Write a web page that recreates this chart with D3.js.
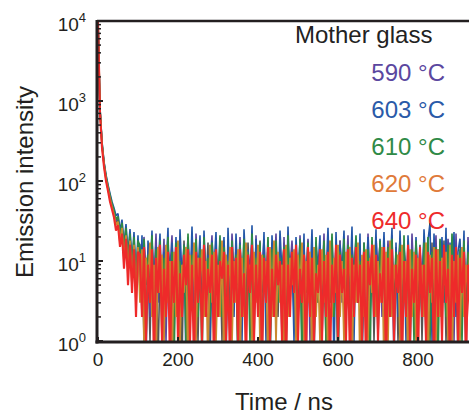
<!DOCTYPE html>
<html><head><meta charset="utf-8">
<script src="https://cdn.jsdelivr.net/npm/d3@7"></script>
<style>
html,body{margin:0;padding:0;background:#fff;}
svg{display:block;font-family:"Liberation Sans",Arial,Helvetica,sans-serif;}
</style></head>
<body>
<svg id="chart" width="469" height="415"></svg>
<script>
// ---- data ----
const times = d3.range(0, 931, 5); // ns, 187 samples
const seriesNames = ["Mother glass", "590 °C", "603 °C", "610 °C", "620 °C", "640 °C"];
const lineColors = ["#555555", "#5b479f", "#2357a8", "#2f8a45", "#c98a30", "#ee2a2a"];
const labelColors = ["#222222", "#5b479f", "#2a5aa8", "#2f8a47", "#e07a3a", "#ee2b2b"];
const xTicks = [0, 200, 400, 600, 800];
const yTickExps = [0, 1, 2, 3, 4];

const motherEarly = [10000,760,285,162,108,80,62,48,40,30,33,18,27,12,23,8,20,6,17,4,16];
const motherTail = [13,2,17,5,10,1,15,4,18,0, 9,6,14,2,16,3,11,1,17,5, 12,0,18,4,10,2,15,6,13,1, 16,3,9,5,17,0,12,2,14,4, 11,1,18,6,13,2,10,3,16,0, 15,5,12,1,17,4,9,2,14,6, 18,0,11,3,16,1,13,5,10,2, 14,4,17,0,12,6,15,2,9,3, 16,1,13,5,18,2,11,0,14,4, 10,3,15,1,12,6,17,2,13,0, 18,5,9,2,14,1,16,4,11,3, 12,0,15,6,10,2,18,1,13,5, 17,3,11,0,16,4,12,2,15,1, 9,6,14,2,18,0,13,3,10,5, 16,1,12,4,15,2,17,0,11,6, 13,3,18,1,10,5,14,2,16,0, 12,4,15,1,17,3];
const s590Early = [10000,780,290,165,110,83,64,50,42,32,35,20,28,13,24,9,21,7,19,5,17];
const s590Tail = [16,4,20,7,13,2,18,5,22,3, 11,6,19,1,15,8,21,3,14,5, 17,2,12,7,20,4,16,1,22,6, 13,3,18,5,11,8,21,2,15,4, 19,6,14,1,17,3,22,7,12,5, 20,2,16,4,13,8,18,1,21,3, 14,7,19,5,11,2,17,6,22,4, 12,1,20,3,15,8,18,5,13,2, 21,6,16,4,19,1,11,7,17,3, 14,5,22,2,13,8,20,4,16,1, 18,3,12,6,21,2,15,7,19,5, 11,4,17,1,22,6,14,3,20,8, 16,2,13,5,18,4,21,1,12,7, 19,3,15,8,11,2,22,5,17,4, 14,6,20,1,16,3,13,7,21,2, 18,5,12,4,19,8,15,1,22,3, 13,6,17,2,20,5];
const s603Early = [10000,820,310,175,120,90,70,55,46,37,39,24,33,16,29,12,25,9,23,6,21];
const s603Tail = [4,21,1,0,18,6,24,2,15,8, 22,3,13,7,26,1,17,5,20,2, 25,6,16,0,19,4,27,3,14,7, 21,2,24,5,12,1,18,8,23,3, 15,6,20,0,26,4,13,2,22,5, 17,1,25,7,14,3,28,2,19,6, 12,4,23,1,18,0,21,5,16,3, 24,7,15,2,27,4,13,1,20,6, 18,3,22,0,14,5,25,2,17,8, 21,1,13,6,26,3,19,0,23,4, 16,7,24,2,12,5,27,1,18,3, 22,0,15,6,20,2,14,4,25,1, 19,5,23,3,13,7,26,0,17,2, 24,4,16,1,21,6,12,3,20,5, 15,2,25,7,18,30,1,22,4,14, 6,20,3,26,1,17,5,23,2,13, 19,4,24,0,16,7];
const s610Early = [10000,800,300,170,115,86,66,52,43,33,36,21,30,14,26,10,22,8,20,5,18];
const s610Tail = [15,3,19,1,12,6,21,2,14,4, 18,1,11,5,20,2,13,0,17,3, 10,4,16,1,22,3,12,6,19,2, 14,0,20,4,11,2,17,1,13,5, 21,2,15,3,10,1,18,4,12,0, 16,5,19,2,13,1,22,3,11,6, 17,1,12,4,20,0,14,2,18,3, 11,6,15,1,21,3,13,5,16,2, 19,0,12,4,17,2,10,1,20,3, 14,5,18,1,11,3,22,2,15,0, 13,4,19,2,16,1,12,6,21,3, 10,1,17,5,14,0,20,3,12,2, 18,4,11,1,15,3,19,2,13,6, 16,0,21,2,12,5,14,1,18,3, 11,2,17,4,20,1,13,3,15,0, 19,5,12,2,16,1,22,4,10,3, 14,1,18,2,13,5];
const s620Early = [10000,750,280,160,105,80,60,47,38,28,31,17,26,10,21,7,18,5,16,3,15];
const s620Tail = [3,14,1,11,5,17,2,9,0,15, 4,12,1,16,3,10,0,13,2,18, 1,9,4,15,0,12,3,17,1,11, 5,14,2,10,0,16,3,13,1,9, 2,18,0,12,4,15,1,10,3,14, 0,11,2,17,5,9,1,13,3,16, 1,12,4,10,0,15,2,18,1,13, 3,9,0,16,2,11,5,14,1,12, 4,17,1,10,3,13,0,15,2,9, 1,14,3,12,0,18,2,11,4,16, 2,10,1,13,5,15,0,9,3,17, 0,12,2,14,1,11,4,16,2,10, 3,15,0,13,1,18,2,9,5,12, 1,16,3,10,0,14,2,13,1,11, 4,9,2,17,0,12,3,15,1,14, 2,11,5,13,1,16,0,10,3,12, 1,15,2,9,4,14];
const s640Early = [10000,700,260,150,100,75,55,44,35,24,28,15,22,8,19,5,16,4,14,2,13];
const s640Tail = [12,2,15,1,9,3,14,0,11,4, 16,1,8,2,13,0,10,3,15,1, 7,2,12,5,14,1,9,0,13,3, 11,1,16,2,8,4,12,0,14,2, 10,6,13,1,9,0,15,3,11,1, 14,2,7,0,12,4,16,1,9,2, 13,0,11,3,15,1,8,2,12,5, 10,1,14,0,9,2,13,4,16,1, 8,3,12,0,15,2,11,1,7,4, 14,1,10,2,13,0,9,3,16,1, 12,4,8,1,14,0,11,2,15,3, 9,1,13,0,10,5,16,2,12,1, 7,3,15,0,11,2,14,1,9,4, 13,0,10,2,16,1,8,3,12,0, 15,2,9,1,13,4,11,0,14,2, 10,1,16,3,8,0,12,2,15,1, 11,4,13,0,9,2];

const seriesValues = [
  motherEarly.concat(motherTail),
  s590Early.concat(s590Tail),
  s603Early.concat(s603Tail),
  s610Early.concat(s610Tail),
  s620Early.concat(s620Tail),
  s640Early.concat(s640Tail)
];
const strokeWidths = [1.6, 1.6, 1.6, 1.7, 1.8, 2.1];

// ---- layout ----
const svg = d3.select("#chart");
const pLeft = 97, pTop = 21, pBottom = 342, pRight = 469;
const x = d3.scaleLinear().domain([0, 1000]).range([98, 498]);
const y = d3.scaleLog().domain([1, 10000]).range([341, 21]);

svg.append("defs").append("clipPath").attr("id", "clip")
  .append("rect").attr("x", pLeft).attr("y", pTop).attr("width", pRight - pLeft).attr("height", pBottom - pTop);

const line = d3.line()
  .x((d, i) => x(times[i]))
  .y(d => y(Math.max(d, 0.5)));

const g = svg.append("g").attr("clip-path", "url(#clip)");
seriesValues.forEach((vals, k) => {
  g.append("path").datum(vals)
    .attr("d", line)
    .attr("fill", "none")
    .attr("stroke", lineColors[k])
    .attr("stroke-width", strokeWidths[k])
    .attr("stroke-linejoin", "bevel");
});

// axes frame
svg.append("line").attr("x1", pLeft).attr("x2", pRight).attr("y1", pTop).attr("y2", pTop)
  .attr("stroke", "#231f20").attr("stroke-width", 2.5);
svg.append("line").attr("x1", pLeft).attr("x2", pLeft).attr("y1", pTop - 1).attr("y2", pBottom + 1.5)
  .attr("stroke", "#231f20").attr("stroke-width", 3);
svg.append("line").attr("x1", pLeft - 1.5).attr("x2", pRight).attr("y1", pBottom).attr("y2", pBottom)
  .attr("stroke", "#231f20").attr("stroke-width", 3);

// y ticks (major + minor), inward
const yAxis = svg.append("g");
yTickExps.forEach(e => {
  const v = Math.pow(10, e);
  yAxis.append("line").attr("x1", pLeft).attr("x2", pLeft + 6).attr("y1", y(v)).attr("y2", y(v))
    .attr("stroke", "#231f20").attr("stroke-width", 2);
  if (e < 4) {
    for (let m = 2; m <= 9; m++) {
      const mv = m * v;
      yAxis.append("line").attr("x1", pLeft).attr("x2", pLeft + 4).attr("y1", y(mv)).attr("y2", y(mv))
        .attr("stroke", "#231f20").attr("stroke-width", 1.5);
    }
  }
  const t = yAxis.append("text").attr("x", 86).attr("y", y(v) + 10)
    .attr("text-anchor", "end").attr("font-size", 19).attr("fill", "#231f20");
  t.append("tspan").text("10");
  t.append("tspan").attr("dy", -9).attr("font-size", 13).text(String(e));
});

// x ticks
const xAxis = svg.append("g");
xTicks.forEach(v => {
  xAxis.append("line").attr("x1", x(v)).attr("x2", x(v)).attr("y1", pBottom).attr("y2", pBottom - 5)
    .attr("stroke", "#231f20").attr("stroke-width", 2);
  xAxis.append("text").attr("x", x(v)).attr("y", 366).attr("text-anchor", "middle")
    .attr("font-size", 19).attr("fill", "#231f20").text(String(v));
});

// axis titles
svg.append("text").attr("x", 284).attr("y", 410).attr("text-anchor", "middle")
  .attr("font-size", 24).attr("fill", "#231f20").text("Time / ns");
svg.append("text").attr("transform", "translate(33,182) rotate(-90)").attr("text-anchor", "middle")
  .attr("font-size", 24).attr("fill", "#231f20").text("Emission intensity");

// legend labels
const legendY = [43, 81, 118, 155, 192, 229];
seriesNames.forEach((name, k) => {
  const t = svg.append("text").attr("y", legendY[k]).attr("font-size", 24).attr("fill", labelColors[k]).text(name);
  if (k === 0) t.attr("x", 295); else t.attr("x", 445).attr("text-anchor", "end");
});
</script>
</body></html>
